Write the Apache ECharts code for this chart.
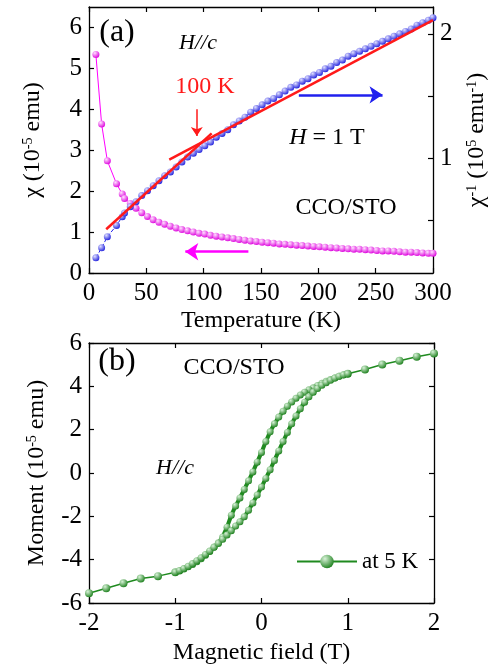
<!DOCTYPE html>
<html>
<head>
<meta charset="utf-8">
<title>CCO/STO susceptibility and M-H loop</title>
<script src="https://cdn.jsdelivr.net/npm/echarts@6/dist/echarts.min.js"></script>
</head>
<body style="margin:0; background:#fff">
<div id="chart" style="width:500px;height:671px"></div>
<script>
// ---- panel (a): chi(T) on the left axis, 1/chi(T) on the right axis ----
var tempK = [6, 11, 16, 24, 29, 31, 36, 41, 46, 51, 56, 61, 66, 71, 76, 81, 86, 91, 96, 101,
  106, 111, 116, 121, 126, 131, 136, 141, 146, 151, 156, 161, 166, 171, 176, 181, 186, 191, 196, 201,
  206, 211, 216, 221, 226, 231, 236, 241, 246, 251, 256, 261, 266, 271, 276, 281, 286, 291, 296, 300];
var chi = [5.34, 3.64, 2.74, 2.18, 1.93, 1.82, 1.70, 1.58, 1.47, 1.38, 1.30, 1.24, 1.19, 1.14, 1.10, 1.06, 1.03, 1.00, 0.97, 0.95,
  0.92, 0.90, 0.88, 0.86, 0.84, 0.82, 0.80, 0.78, 0.77, 0.75, 0.74, 0.73, 0.71, 0.70, 0.69, 0.68, 0.67, 0.66, 0.65, 0.64,
  0.63, 0.62, 0.61, 0.60, 0.59, 0.58, 0.58, 0.57, 0.56, 0.55, 0.54, 0.54, 0.53, 0.52, 0.51, 0.51, 0.50, 0.49, 0.48, 0.48];
var chiInv = [0.20, 0.28, 0.37, 0.46, 0.53, 0.56, 0.61, 0.65, 0.70, 0.74, 0.78, 0.82, 0.86, 0.89, 0.93, 0.97, 1.01, 1.04, 1.07, 1.10,
  1.13, 1.17, 1.20, 1.23, 1.27, 1.30, 1.33, 1.37, 1.40, 1.43, 1.46, 1.48, 1.51, 1.54, 1.57, 1.59, 1.62, 1.64, 1.67, 1.69,
  1.72, 1.74, 1.77, 1.79, 1.82, 1.84, 1.86, 1.88, 1.90, 1.92, 1.94, 1.96, 1.98, 2.00, 2.02, 2.04, 2.07, 2.09, 2.11, 2.13];
// straight-line fits to 1/chi
var fitLowT = [[15, 0.43], [107, 1.20]];
var fitHighT = [[70, 0.99], [300, 2.11]];
// annotation arrows [start, end] in data units
var arrow100K = [[94, 4.0], [94, 3.35]];     // left axis
var arrowChi = [[139, 0.52], [84, 0.52]];    // left axis
var arrowChiInv = [[183, 1.51], [256, 1.51]]; // right axis

// ---- panel (b): M(H) at 5 K ----
var fieldOuter = [-2, -1.8, -1.6, -1.4, -1.2, -1.0, null, 1.0, 1.2, 1.4, 1.6, 1.8, 2.0];
var momentOuter = [-5.55, -5.32, -5.09, -4.87, -4.76, -4.58, null, 4.58, 4.78, 5.01, 5.18, 5.37, 5.52];
// loop: field sweep down from 1 T to -1 T, then back up
var fieldLoop = [1, 0.95, 0.9, 0.85, 0.8, 0.75, 0.7, 0.65, 0.6, 0.55, 0.5, 0.45, 0.4, 0.35, 0.3, 0.25, 0.2, 0.15, 0.1, 0.05,
  0, -0.05, -0.1, -0.15, -0.2, -0.25, -0.3, -0.35, -0.4, -0.45, -0.5, -0.55, -0.6, -0.65, -0.7, -0.75, -0.8, -0.85, -0.9, -0.95, -1,
  -0.95, -0.9, -0.85, -0.8, -0.75, -0.7, -0.65, -0.6, -0.55, -0.5, -0.45, -0.4, -0.35, -0.3, -0.25, -0.2, -0.15, -0.1, -0.05,
  0, 0.05, 0.1, 0.15, 0.2, 0.25, 0.3, 0.35, 0.4, 0.45, 0.5, 0.55, 0.6, 0.65, 0.7, 0.75, 0.8, 0.85, 0.9, 0.95, 1];
var momentLoop = [4.58, 4.52, 4.46, 4.39, 4.31, 4.23, 4.14, 4.04, 3.93, 3.84, 3.73, 3.60, 3.45, 3.28, 3.08, 2.85, 2.58, 2.27, 1.90, 1.45,
  0.95, 0.50, 0.05, -0.36, -0.76, -1.15, -1.52, -1.95, -2.50, -2.95, -3.22, -3.42, -3.62, -3.80, -3.96, -4.10, -4.22, -4.33, -4.43, -4.52, -4.58,
  -4.50, -4.41, -4.30, -4.18, -4.05, -3.91, -3.76, -3.60, -3.43, -3.25, -3.06, -2.86, -2.66, -2.45, -2.25, -2.02, -1.72, -1.38, -1.02,
  -0.65, -0.25, 0.15, 0.58, 1.02, 1.45, 1.87, 2.27, 2.63, 2.97, 3.27, 3.52, 3.73, 3.90, 4.05, 4.17, 4.28, 4.38, 4.46, 4.53, 4.58];

function zip(xs, ys) {
  var out = [];
  for (var i = 0; i < xs.length; i++) {
    out.push(xs[i] === null ? [null, null] : [xs[i], ys[i]]);
  }
  return out;
}

// shaded "ball" markers like the original plot
function ball(light, dark) {
  return new echarts.graphic.RadialGradient(0.35, 0.3, 0.75, [
    { offset: 0, color: light },
    { offset: 1, color: dark }
  ]);
}

// arrow drawn as a 'lines' series on the given axes
function arrowSeries(name, xi, yi, coords, color, width, headSize) {
  return {
    name: name, type: 'lines', coordinateSystem: 'cartesian2d',
    xAxisIndex: xi, yAxisIndex: yi, silent: true, z: 6,
    symbol: ['none', 'arrow'], symbolSize: headSize,
    lineStyle: { color: color, width: width, opacity: 1, curveness: 0 },
    data: [{ coords: coords }]
  };
}

var serif = 'Liberation Serif';
var axisBlack = { onZero: false, lineStyle: { color: '#000', width: 1.3 } };
var tickIn = { inside: true, length: 5, lineStyle: { color: '#000', width: 1.2 } };
var labelStyle = { fontFamily: serif, fontSize: 25, color: '#000' };
var nameStyle = {
  fontFamily: serif, fontSize: 24, color: '#000',
  rich: {
    n: { fontFamily: serif, fontSize: 24, color: '#000' },
    s: { fontFamily: serif, fontSize: 14, color: '#000', verticalAlign: 'top', padding: [0, 0, 10, 0] }
  }
};

var myChart = echarts.init(document.getElementById('chart'));

var option = {
  animation: false,
  backgroundColor: '#fff',
  grid: [
    { left: 89, top: 7, width: 344, height: 266 },
    { left: 89, top: 343, width: 345, height: 260 }
  ],
  xAxis: [
    {
      gridIndex: 0, type: 'value', min: 0, max: 300, interval: 50,
      name: 'Temperature (K)', nameLocation: 'middle', nameGap: 36, nameTextStyle: nameStyle,
      axisLine: axisBlack, axisTick: tickIn, splitLine: { show: false },
      axisLabel: Object.assign({ margin: 8 }, labelStyle)
    },
    {
      gridIndex: 0, type: 'value', position: 'top', min: 0, max: 300, interval: 50,
      axisLine: axisBlack, axisTick: tickIn, splitLine: { show: false }, axisLabel: { show: false }
    },
    {
      gridIndex: 1, type: 'value', min: -2, max: 2, interval: 1,
      name: 'Magnetic field (T)', nameLocation: 'middle', nameGap: 38, nameTextStyle: nameStyle,
      axisLine: axisBlack, axisTick: tickIn, splitLine: { show: false },
      axisLabel: Object.assign({ margin: 8 }, labelStyle)
    },
    {
      gridIndex: 1, type: 'value', position: 'top', min: -2, max: 2, interval: 1,
      axisLine: axisBlack, axisTick: tickIn, splitLine: { show: false }, axisLabel: { show: false }
    }
  ],
  yAxis: [
    {
      gridIndex: 0, type: 'value', min: 0, max: 6.5, interval: 1,
      name: '{n|χ (10}{s|-5}{n| emu)}', nameLocation: 'middle', nameRotate: 90, nameGap: 44, nameTextStyle: nameStyle,
      axisLine: axisBlack, splitLine: { show: false },
      axisTick: Object.assign({ customValues: [0, 1, 2, 3, 4, 5, 6] }, tickIn),
      axisLabel: Object.assign({ margin: 7, customValues: [0, 1, 2, 3, 4, 5, 6] }, labelStyle)
    },
    {
      gridIndex: 0, type: 'value', position: 'right', min: 0.078, max: 2.216,
      name: '{n|χ}{s|-1}{n| (10}{s|5}{n| emu}{s|-1}{n|)}', nameLocation: 'middle', nameRotate: 90, nameGap: 32, nameTextStyle: nameStyle,
      axisLine: axisBlack, splitLine: { show: false },
      axisTick: Object.assign({ customValues: [0.5, 1, 1.5, 2] }, tickIn),
      axisLabel: Object.assign({ margin: 7, customValues: [1, 2] }, labelStyle)
    },
    {
      gridIndex: 1, type: 'value', min: -6, max: 6, interval: 2,
      name: '{n|Moment (10}{s|-5}{n| emu)}', nameLocation: 'middle', nameRotate: 90, nameGap: 40, nameTextStyle: nameStyle,
      axisLine: axisBlack, axisTick: tickIn, splitLine: { show: false },
      axisLabel: Object.assign({ margin: 7 }, labelStyle)
    },
    {
      gridIndex: 1, type: 'value', position: 'right', min: -6, max: 6, interval: 2,
      axisLine: axisBlack, axisTick: tickIn, splitLine: { show: false }, axisLabel: { show: false }
    }
  ],
  legend: {
    data: ['at 5 K'],
    left: 291, top: 545,
    itemWidth: 60, itemHeight: 17, itemGap: 0,
    textStyle: { fontFamily: serif, fontSize: 23, color: '#000' }
  },
  series: [
    {
      name: 'chi', type: 'line', xAxisIndex: 0, yAxisIndex: 0,
      data: zip(tempK, chi),
      symbol: 'circle', symbolSize: 7,
      itemStyle: { color: ball('#ffe0ff', '#dd00dd') },
      lineStyle: { color: '#ff00ff', width: 1 },
      z: 3
    },
    {
      name: 'chiInv', type: 'line', xAxisIndex: 0, yAxisIndex: 1,
      data: zip(tempK, chiInv),
      symbol: 'circle', symbolSize: 7,
      itemStyle: { color: ball('#e0e0ff', '#2020dd') },
      lineStyle: { color: '#2020ee', width: 1, type: 'dashed' },
      z: 4
    },
    {
      name: 'fit low T', type: 'line', xAxisIndex: 0, yAxisIndex: 1,
      data: fitLowT, showSymbol: false, silent: true,
      lineStyle: { color: '#ff1a1a', width: 2.5 }, z: 5
    },
    {
      name: 'fit high T', type: 'line', xAxisIndex: 0, yAxisIndex: 1,
      data: fitHighT, showSymbol: false, silent: true,
      lineStyle: { color: '#ff1a1a', width: 2.5 }, z: 5
    },
    arrowSeries('arrow 100 K', 0, 0, arrow100K, '#ff1a1a', 1.5, 9),
    arrowSeries('arrow chi', 0, 0, arrowChi, '#ff00ff', 2.5, 13),
    arrowSeries('arrow chiInv', 0, 1, arrowChiInv, '#2020ee', 2.5, 13),
    {
      name: 'at 5 K', type: 'line', xAxisIndex: 2, yAxisIndex: 2,
      data: zip(fieldOuter, momentOuter), connectNulls: false,
      symbol: 'circle', symbolSize: 8,
      itemStyle: { color: ball('#d8f2d8', '#1b7f1b') },
      lineStyle: { color: '#1f8a1f', width: 1.5 }
    },
    {
      name: 'loop', type: 'line', xAxisIndex: 2, yAxisIndex: 2,
      data: zip(fieldLoop, momentLoop),
      symbol: 'circle', symbolSize: 7,
      itemStyle: { color: ball('#d8f2d8', '#1b7f1b') },
      lineStyle: { color: '#1f8a1f', width: 4 }
    }
  ],
  graphic: [
    { type: 'text', x: 117, y: 33, style: { text: '(a)', font: '32px "Liberation Serif"', fill: '#000', align: 'center', verticalAlign: 'middle' } },
    { type: 'text', x: 198, y: 43, style: { text: 'H//c', font: 'italic 22px "Liberation Serif"', fill: '#000', align: 'center', verticalAlign: 'middle' } },
    { type: 'text', x: 205, y: 87, style: { text: '100 K', font: '24px "Liberation Serif"', fill: '#ff1a1a', align: 'center', verticalAlign: 'middle' } },
    {
      type: 'text', x: 327, y: 138,
      style: {
        text: '{i|H} = 1 T', font: '24px "Liberation Serif"', fill: '#000', align: 'center', verticalAlign: 'middle',
        rich: { i: { fontStyle: 'italic', fontFamily: serif, fontSize: 24 } }
      }
    },
    { type: 'text', x: 346, y: 208, style: { text: 'CCO/STO', font: '24px "Liberation Serif"', fill: '#000', align: 'center', verticalAlign: 'middle' } },
    { type: 'text', x: 117, y: 362, style: { text: '(b)', font: '32px "Liberation Serif"', fill: '#000', align: 'center', verticalAlign: 'middle' } },
    { type: 'text', x: 234, y: 368, style: { text: 'CCO/STO', font: '24px "Liberation Serif"', fill: '#000', align: 'center', verticalAlign: 'middle' } },
    { type: 'text', x: 175, y: 468, style: { text: 'H//c', font: 'italic 22px "Liberation Serif"', fill: '#000', align: 'center', verticalAlign: 'middle' } }
  ]
};

myChart.setOption(option);
</script>
</body>
</html>
